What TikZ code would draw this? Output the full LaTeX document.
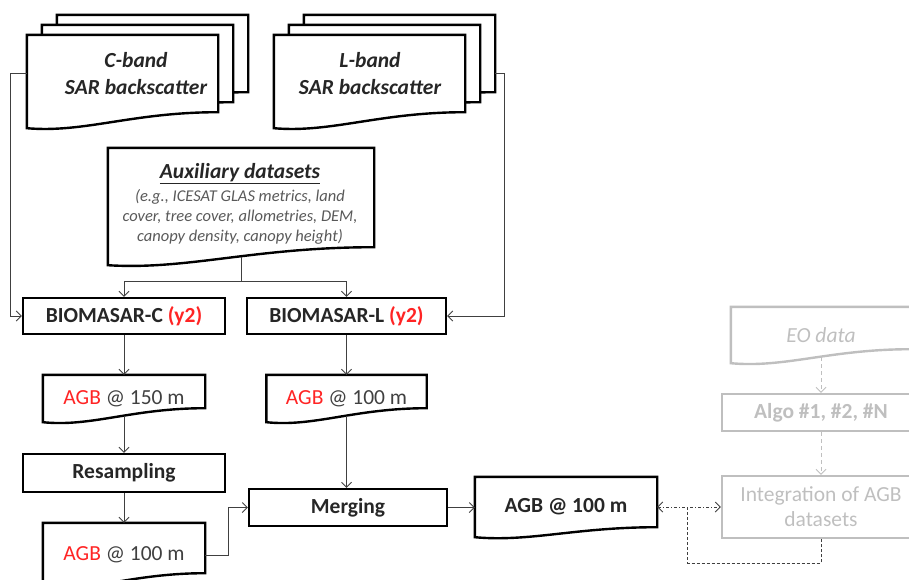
\documentclass[tikz,border=0pt]{standalone}
\usepackage{fontspec}
\setmainfont{Carlito}
\usetikzlibrary{calc,arrows.meta}

\definecolor{titleblack}{HTML}{262626}
\definecolor{txtgray}{HTML}{404040}
\definecolor{auxgray}{HTML}{595959}
\definecolor{ghost}{HTML}{BFBFBF}
\definecolor{agbred}{HTML}{FF2424}

\newcommand{\bodysize}{\fontsize{21.5}{25}\selectfont}
% outline of a document shape around a node, #3 = drop of the wavy bottom
\newcommand{\docoutline}[3][]{%
  \draw[line width=2.4pt, #1] (#2.north west) -- (#2.north east) -- ($(#2.south east)+(0,-#3)$)
    .. controls ($(#2.south east)!0.45!(#2.south west)+(0,-#3)$) and ($(#2.south west)!0.3!(#2.south east)+(0,5)$)
    .. (#2.south west) -- cycle;}

\begin{document}
\begin{tikzpicture}[x=1pt, y=-1pt,
  >={Straight Barb[length=5pt,width=10pt]},
  every node/.style={inner sep=0pt, font=\bodysize},
  stepbox/.style={draw=black, line width=2.4pt, text=titleblack, font=\bodysize\bfseries},
  ghostbox/.style={draw=ghost, line width=2.4pt, text=ghost},
  doc/.style={text=txtgray},
  bandtext/.style={align=center, text=titleblack, font=\fontsize{21.5}{27}\selectfont\bfseries\itshape},
  link/.style={draw=txtgray, line width=0.8pt, ->},
  fromdoc/.style={shorten <=-6pt}]

\useasboundingbox (0,0) rectangle (909,579);
\clip (0,0) rectangle (909,579);

% SAR inputs (stacks of three sheets)
\foreach \i/\dx in {3/30, 2/15, 1/0} {
  \node[minimum width=191pt, minimum height=93pt] (cdoc\i) at (122.5+\dx, 81.5-\dx*2/3) {};
  \node[minimum width=191pt, minimum height=93pt] (ldoc\i) at (369.5+\dx, 81.5-\dx*2/3) {};
}
\foreach \i in {3,2,1} {
  \docoutline[fill=white]{cdoc\i}{16}
  \docoutline[fill=white]{ldoc\i}{16}
}
\node[bandtext] (ctext) at (136,73.5) {C-band\\SAR backscatter};
\node[bandtext] (ltext) at (370,73.5) {L-band\\SAR backscatter};

% auxiliary data
\node[doc, align=center, font=\fontsize{16.5}{20}\selectfont\itshape, text=auxgray] (aux) at (240,203.5)
  {{\fontsize{21.5}{25}\selectfont\bfseries\color{titleblack}\underline{Auxiliary datasets}}\\[3pt]
   (e.g., ICESAT GLAS metrics, land\\
   cover, tree cover, allometries, DEM,\\
   canopy density, canopy height)};
\node[minimum width=266pt, minimum height=117pt] (auxframe) at (241,206.5) {};

% processing chain
\node[stepbox, minimum width=202pt, minimum height=36pt] (biomc) at (124,316) {BIOMASAR-C \textcolor{agbred}{(y2)}};
\node[stepbox, minimum width=199pt, minimum height=36pt] (bioml) at (346.5,316) {BIOMASAR-L \textcolor{agbred}{(y2)}};
\node[doc, minimum width=162pt, minimum height=47pt] (agbc) at (124,398.5) {\textcolor{agbred}{AGB} @ 150 m};
\node[doc, minimum width=160pt, minimum height=47pt] (agbl) at (346.5,398.5) {\textcolor{agbred}{AGB} @ 100 m};
\node[stepbox, minimum width=202pt, minimum height=38pt] (resamp) at (124,473) {Resampling};
\node[doc, minimum width=162pt, minimum height=64pt] (agbr) at (124,555) {\textcolor{agbred}{AGB} @ 100 m};
\node[stepbox, minimum width=198pt, minimum height=37pt] (merge) at (348,507.5) {Merging};
\node[doc, text=titleblack, font=\bodysize\bfseries, minimum width=182pt, minimum height=60pt] (agbf) at (566,507) {AGB @ 100 m};

% greyed-out integration part
\node[doc, text=ghost, font=\bodysize\itshape, minimum width=180pt, minimum height=56pt] (eo) at (821,335) {EO data};
\node[ghostbox, font=\bodysize\bfseries, minimum width=198pt, minimum height=37pt] (algo) at (821,412.5) {Algo \#1, \#2, \#N};
\node[ghostbox, align=center, minimum width=198pt, minimum height=62pt] (integ) at (821,507) {Integration of AGB\\datasets};

\docoutline{auxframe}{18}
\docoutline{agbc}{14}
\docoutline{agbl}{14}
\docoutline{agbr}{14}
\docoutline{agbf}{10}
\docoutline[draw=ghost]{eo}{14}

% connectors
\draw[link] (cdoc1.west |- ctext) -- ++(-16,0) |- (biomc.west);
\draw[link] (ldoc3.east |- ltext) -- ++(9,0) |- (bioml.east);
\draw[txtgray, line width=0.8pt, shorten <=-8pt] (auxframe.south) -- ++(0,16) coordinate (auxfork);
\draw[link] (auxfork) -| (biomc.north);
\draw[link] (auxfork) -| (bioml.north);
\draw[link] (biomc.south) -- (agbc.north);
\draw[link] (bioml.south) -- (agbl.north);
\draw[link, fromdoc] (agbc.south) -- (resamp.north);
\draw[link] (resamp.south) -- (agbr.north);
\draw[link, fromdoc] (agbl.south) -- (agbl.south |- merge.north);
\draw[link] (agbr.east) -- ++(23,0) |- (merge.west);
\draw[link] (merge.east) -- (merge.east -| agbf.west);
\draw[txtgray, line width=0.8pt, dash pattern=on 3pt off 2pt on 1pt off 2pt, <->]
  (agbf.east) -- (integ.west) coordinate[pos=0.48] (loopstart);
\draw[txtgray, line width=0.8pt, dash pattern=on 3pt off 2pt] (loopstart) -- ++(0,56) -| (integ.south);
\draw[link, draw=ghost, dash pattern=on 4pt off 3pt, fromdoc] (eo.south) -- (algo.north);
\draw[link, draw=ghost, dash pattern=on 4pt off 3pt] (algo.south) -- (integ.north);
\end{tikzpicture}
\end{document}
